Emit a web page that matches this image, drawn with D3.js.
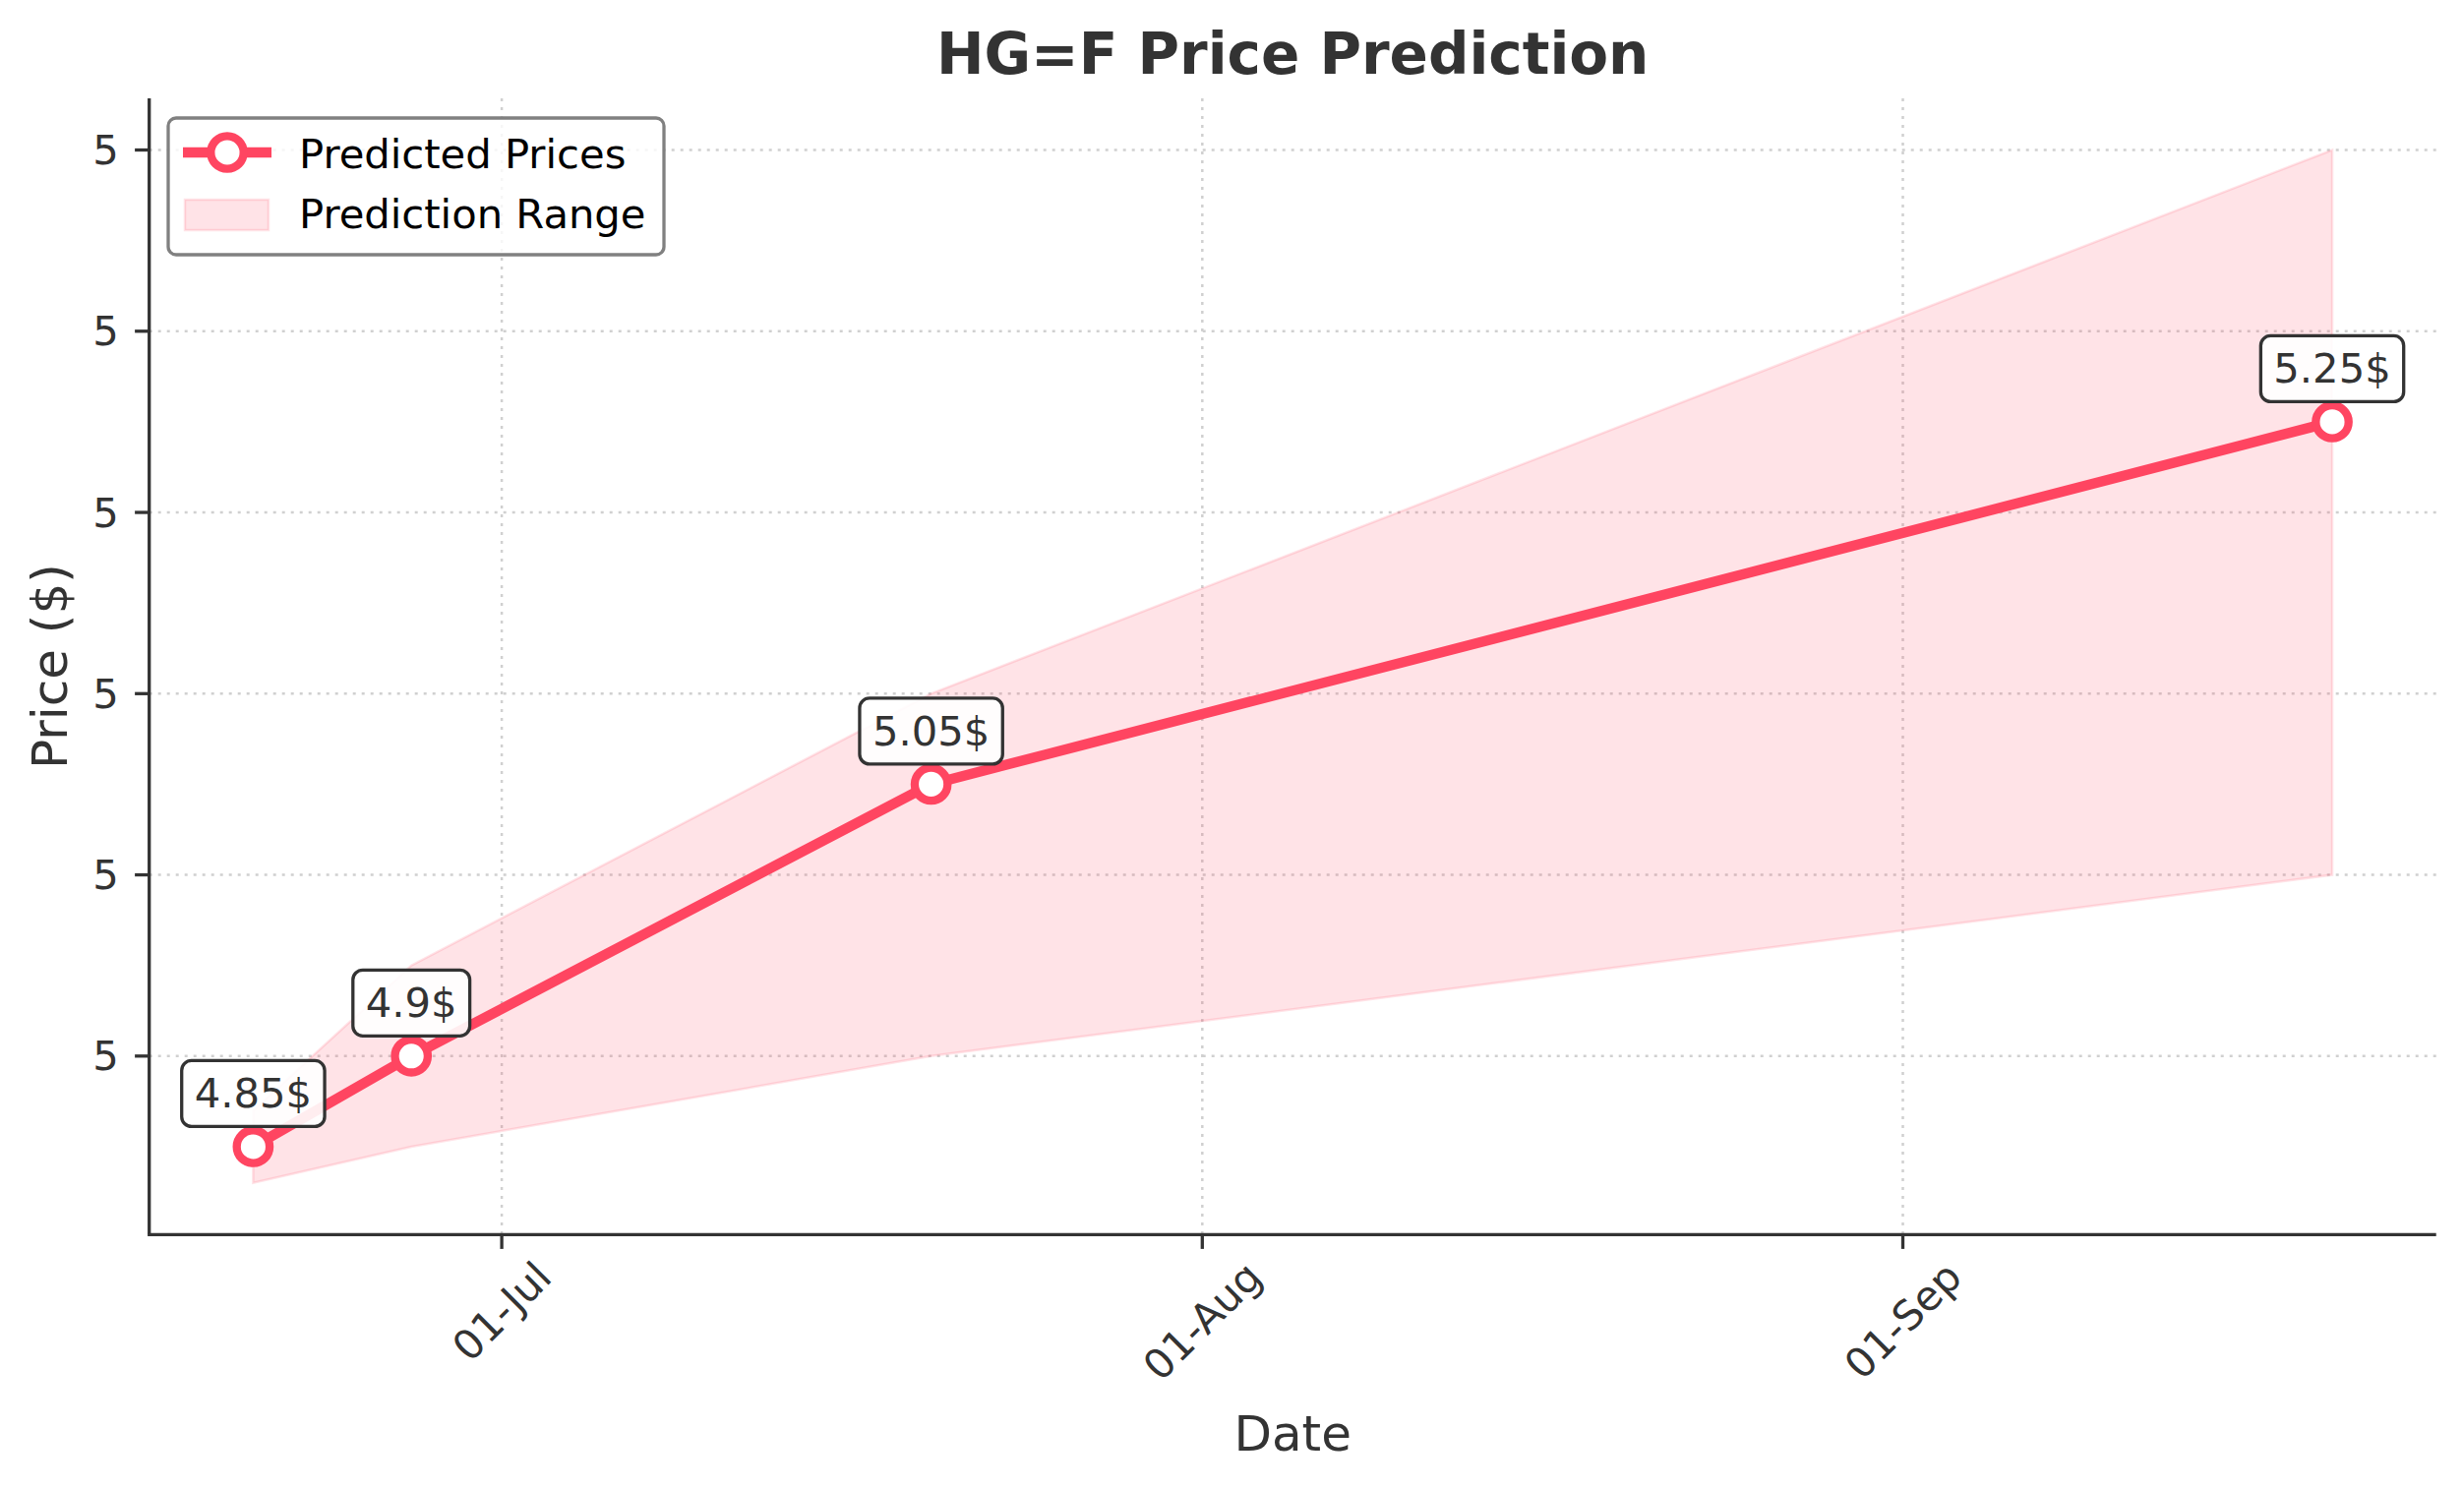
<!DOCTYPE html>
<html>
<head>
<meta charset="utf-8">
<script src="https://cdn.jsdelivr.net/npm/d3@7"></script>
<style>
    body { margin: 0; background: #fff; }
    svg { display: block; font-family: "DejaVu Sans", sans-serif; }
</style>
</head>
<body>
<svg width="2505" height="1513"></svg>
<script>
//Chart data
const dates = ["2024-06-20", "2024-06-27", "2024-07-20", "2024-09-20"];
const predicted = [4.85, 4.9, 5.05, 5.25];
const lowerBound = [4.83, 4.85, 4.9, 5.0];
const upperBound = [4.87, 4.95, 5.1, 5.4];
const priceTicks = [4.9, 5.0, 5.1, 5.2, 5.3, 5.4];
const dateTicks = ["2024-07-01", "2024-08-01", "2024-09-01"];

const parseDate = d3.timeParse("%Y-%m-%d");
const rows = dates.map((d, i) => ({
    date: parseDate(d),
    price: predicted[i],
    low: lowerBound[i],
    high: upperBound[i]
}));

const svg = d3.select("svg");
const red = "#ff4561";
const dark = "#333333";

//Plot area
const plotLeft = 151.7, plotRight = 2476.7, plotTop = 100, plotBottom = 1255.3;

//X scale with 5% margin like matplotlib
const dateExtent = d3.extent(rows, d => d.date);
const dPad = (dateExtent[1] - dateExtent[0]) * 0.05;
const x = d3.scaleTime()
    .domain([new Date(+dateExtent[0] - dPad), new Date(+dateExtent[1] + dPad)])
    .range([plotLeft, plotRight]);

//Y scale from the prediction range
const yMin = d3.min(rows, d => d.low), yMax = d3.max(rows, d => d.high);
const yPad = (yMax - yMin) * 0.05;
const y = d3.scaleLinear()
    .domain([yMin - yPad, yMax + yPad])
    .range([plotBottom, plotTop]);

svg.append("rect").attr("width", 2505).attr("height", 1513).attr("fill", "#fff");

//Grid lines
const grid = svg.append("g")
    .attr("stroke", "#d0d0d0")
    .attr("stroke-width", 2.5)
    .attr("stroke-dasharray", "3,6");
grid.selectAll(".hgrid")
    .data(priceTicks)
    .enter()
    .append("line")
    .attr("x1", plotLeft).attr("x2", plotRight)
    .attr("y1", d => y(d)).attr("y2", d => y(d));
grid.selectAll(".vgrid")
    .data(dateTicks.map(parseDate))
    .enter()
    .append("line")
    .attr("x1", d => x(d)).attr("x2", d => x(d))
    .attr("y1", plotTop).attr("y2", plotBottom);

//Prediction range band
const area = d3.area()
    .x(d => x(d.date))
    .y0(d => y(d.low))
    .y1(d => y(d.high));
svg.append("path")
    .datum(rows)
    .attr("d", area)
    .attr("fill", red)
    .attr("fill-opacity", 0.15)
    .attr("stroke", red)
    .attr("stroke-opacity", 0.15)
    .attr("stroke-width", 2.5);

//Predicted price line
const line = d3.line()
    .x(d => x(d.date))
    .y(d => y(d.price));
svg.append("path")
    .datum(rows)
    .attr("d", line)
    .attr("fill", "none")
    .attr("stroke", red)
    .attr("stroke-width", 10.4)
    .attr("stroke-linejoin", "round")
    .attr("stroke-linecap", "round");

svg.selectAll(".marker")
    .data(rows)
    .enter()
    .append("circle")
    .attr("cx", d => x(d.date))
    .attr("cy", d => y(d.price))
    .attr("r", 16.7)
    .attr("fill", "#fff")
    .attr("stroke", red)
    .attr("stroke-width", 8.3);

//Value labels in boxes
const notes = svg.selectAll(".note")
    .data(rows)
    .enter()
    .append("g")
    .attr("transform", d => `translate(${x(d.date)}, ${y(d.price) - 54})`);
notes.append("rect");
notes.append("text")
    .attr("text-anchor", "middle")
    .attr("dominant-baseline", "central")
    .attr("font-size", "41.7px")
    .attr("fill", dark)
    .text(d => d.price + "$");
notes.each(function() {
    const g = d3.select(this);
    const w = g.select("text").node().getComputedTextLength() + 26;
    g.select("rect")
        .attr("x", -w / 2).attr("y", -33.5)
        .attr("width", w).attr("height", 67)
        .attr("rx", 10)
        .attr("fill", "#fff")
        .attr("fill-opacity", 0.9)
        .attr("stroke", dark)
        .attr("stroke-width", 3.3);
});

//Axes (left and bottom spines only)
svg.append("line")
    .attr("x1", plotLeft).attr("x2", plotLeft).attr("y1", plotTop).attr("y2", plotBottom)
    .attr("stroke", dark).attr("stroke-width", 3.3);
svg.append("line")
    .attr("x1", plotLeft - 1.6).attr("x2", plotRight).attr("y1", plotBottom).attr("y2", plotBottom)
    .attr("stroke", dark).attr("stroke-width", 3.3);

//Y ticks
const fmt = d3.format(".0f");
const yTick = svg.selectAll(".ytick")
    .data(priceTicks)
    .enter()
    .append("g")
    .attr("transform", d => `translate(${plotLeft}, ${y(d)})`);
yTick.append("line")
    .attr("x1", -14.6).attr("x2", 0)
    .attr("stroke", dark).attr("stroke-width", 3.3);
yTick.append("text")
    .attr("x", -31)
    .attr("text-anchor", "end")
    .attr("dominant-baseline", "central")
    .attr("font-size", "41.7px")
    .attr("fill", dark)
    .text(d => fmt(d));

//X ticks with rotated labels
const fmtDate = d3.timeFormat("%d-%b");
const xTick = svg.selectAll(".xtick")
    .data(dateTicks.map(parseDate))
    .enter()
    .append("g")
    .attr("transform", d => `translate(${x(d)}, ${plotBottom})`);
xTick.append("line")
    .attr("y1", 0).attr("y2", 14.6)
    .attr("stroke", dark).attr("stroke-width", 3.3);
xTick.append("text")
    .attr("text-anchor", "middle")
    .attr("dominant-baseline", "central")
    .attr("font-size", "41.7px")
    .attr("fill", dark)
    .text(d => fmtDate(d))
    .each(function() {
        const w = this.getComputedTextLength();
        const half = (w + 24) / (2 * Math.SQRT2);
        d3.select(this).attr("transform", `translate(0, ${27 + half}) rotate(-45)`);
    });

//Title and axis labels
svg.append("text")
    .attr("x", (plotLeft + plotRight) / 2)
    .attr("y", 75)
    .attr("text-anchor", "middle")
    .attr("font-size", "58px")
    .attr("font-weight", "bold")
    .attr("fill", dark)
    .text("HG=F Price Prediction");

svg.append("text")
    .attr("x", (plotLeft + plotRight) / 2)
    .attr("y", 1475)
    .attr("text-anchor", "middle")
    .attr("font-size", "50px")
    .attr("fill", dark)
    .text("Date");

svg.append("text")
    .attr("transform", `translate(68, ${(plotTop + plotBottom) / 2}) rotate(-90)`)
    .attr("text-anchor", "middle")
    .attr("font-size", "50px")
    .attr("fill", dark)
    .text("Price ($)");

//Legend
const legend = svg.append("g");
legend.append("rect")
    .attr("x", 171).attr("y", 120)
    .attr("width", 504).attr("height", 139)
    .attr("rx", 8)
    .attr("fill", "#fff")
    .attr("fill-opacity", 0.8)
    .attr("stroke", "#808080")
    .attr("stroke-width", 3.3);
legend.append("line")
    .attr("x1", 186).attr("x2", 276).attr("y1", 155).attr("y2", 155)
    .attr("stroke", red).attr("stroke-width", 10.4);
legend.append("circle")
    .attr("cx", 231).attr("cy", 155).attr("r", 16.7)
    .attr("fill", "#fff").attr("stroke", red).attr("stroke-width", 8.3);
legend.append("rect")
    .attr("x", 188).attr("y", 203)
    .attr("width", 85).attr("height", 31)
    .attr("fill", red).attr("fill-opacity", 0.15)
    .attr("stroke", red).attr("stroke-opacity", 0.15).attr("stroke-width", 2.5);
legend.selectAll(".ltext")
    .data(["Predicted Prices", "Prediction Range"])
    .enter()
    .append("text")
    .attr("x", 304)
    .attr("y", (d, i) => 170.7 + i * 61)
    .attr("font-size", "41.7px")
    .attr("fill", "#000")
    .text(d => d);
</script>
</body>
</html>
